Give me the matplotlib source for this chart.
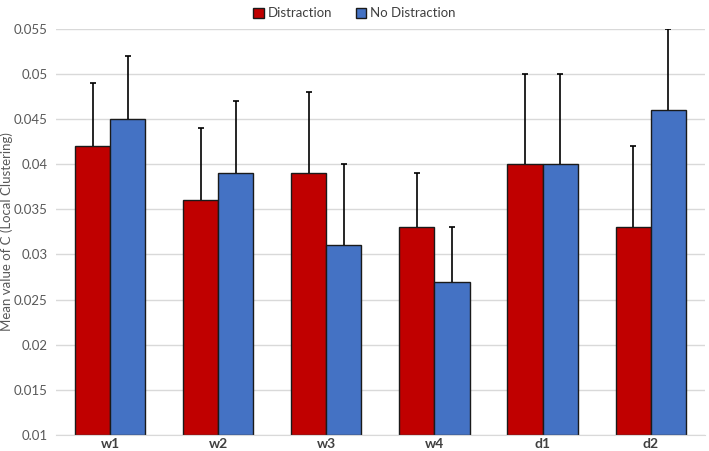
import numpy as np
import matplotlib.pyplot as plt

plt.rcParams['font.family'] = ['Lato', 'DejaVu Sans']

categorias = ['w1', 'w2', 'w3', 'w4', 'd1', 'd2']
distraccion = [0.042, 0.036, 0.039, 0.033, 0.040, 0.033]
distraccion_err = [0.007, 0.008, 0.009, 0.006, 0.010, 0.009]
sin_distraccion = [0.045, 0.039, 0.031, 0.027, 0.040, 0.046]
sin_distraccion_err = [0.007, 0.008, 0.009, 0.006, 0.010, 0.009]

fig = plt.figure(figsize=(7.09, 4.51), dpi=100)
ax = fig.add_axes([0.079, 0.0355, 0.915, 0.9005])

x = np.arange(len(categorias))
ancho = 0.325
base = 0.01

ax.bar(x - ancho / 2, np.array(distraccion) - base, ancho, bottom=base,
       color='#C00000', edgecolor='#1a1a1a', linewidth=1.0, label='Distraction', zorder=2)
ax.bar(x + ancho / 2, np.array(sin_distraccion) - base, ancho, bottom=base,
       color='#4472C4', edgecolor='#1a1a1a', linewidth=1.0, label='No Distraction', zorder=2)

# barras de error solo hacia arriba (sin tapa inferior)
for pos, vals, errs in [(x - ancho / 2, distraccion, distraccion_err),
                        (x + ancho / 2, sin_distraccion, sin_distraccion_err)]:
    _, caps, _ = ax.errorbar(pos, vals, yerr=[np.zeros(len(vals)), errs],
                             fmt='none', ecolor='black', elinewidth=1.2,
                             capsize=2.5, capthick=1.2, zorder=3)
    caps[0].set_visible(False)

ax.set_ylim(0.01, 0.055)
ax.set_xlim(-0.5, len(categorias) - 0.5)
ticks = np.arange(0.01, 0.0551, 0.005)
ax.set_yticks(ticks)
ax.set_yticklabels([f'{t:.3f}'.rstrip('0') for t in ticks], color='#595959', fontsize=9.5)
ax.set_xticks(x)
ax.set_xticklabels(categorias, fontweight='bold', color='#404040', fontsize=10)
ax.tick_params(axis='y', length=0, pad=6)
ax.tick_params(axis='x', length=0, pad=2)
ax.grid(axis='y', color='#d9d9d9', linewidth=1.0, zorder=0)
for s in ['top', 'right', 'left']:
    ax.spines[s].set_visible(False)
ax.spines['bottom'].set_color('#d9d9d9')

ax.set_ylabel('Mean value of C (Local Clustering)', color='#595959', fontsize=9.5)
ax.yaxis.set_label_coords(-0.067, 0.5)

fig.legend(*ax.get_legend_handles_labels(), loc='upper center', bbox_to_anchor=(0.5, 1.01),
           ncol=2, frameon=False, fontsize=9.5, handlelength=0.8, handleheight=0.8,
           handletextpad=0.3, columnspacing=1.8, labelcolor='#404040')

plt.savefig('out.png', dpi=100)
